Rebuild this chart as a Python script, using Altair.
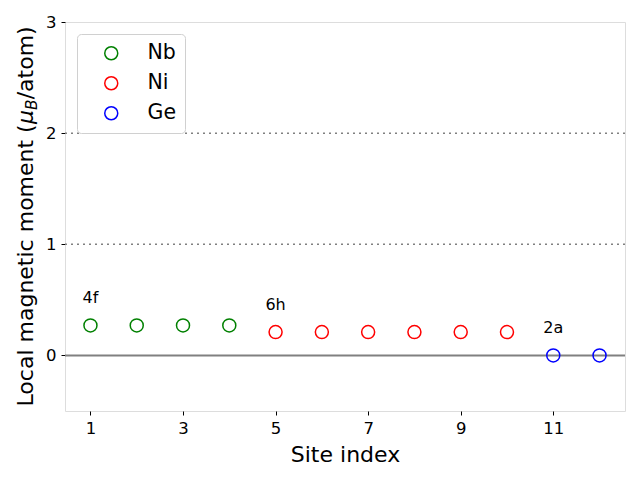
import altair as alt
import pandas as pd

# ---- data ----
sites = list(range(1, 13))
elements = ["Nb"] * 4 + ["Ni"] * 6 + ["Ge"] * 2
moments = [0.27, 0.27, 0.27, 0.27, 0.21, 0.21, 0.21, 0.21, 0.21, 0.21, 0.0, 0.0]
element_order = ["Nb", "Ni", "Ge"]
element_colors = ["#008000", "#ff0000", "#0000ff"]

wyckoff_labels = ["4f", "6h", "2a"]
wyckoff_x = [1, 5, 11]
wyckoff_y = [0.47, 0.41, 0.20]

dotted_levels = [1, 2]
zero_level = [0]

x_ticks = [1, 3, 5, 7, 9, 11]
y_ticks = [0, 1, 2, 3]

df = pd.DataFrame({"site": sites, "moment": moments, "element": elements})
lab_df = pd.DataFrame({"label": wyckoff_labels, "x": wyckoff_x, "y": wyckoff_y})

W, H = 560, 389
FONT = "DejaVu Sans"

xscale = alt.Scale(domain=[0.45, 12.55], nice=False, zero=False)
yscale = alt.Scale(domain=[-0.5, 3], nice=False, zero=False)

xaxis = alt.Axis(values=x_ticks, title="Site index", grid=False, domain=False,
                 tickColor="black", tickSize=4, labelFontSize=16.5, labelColor="black",
                 labelPadding=5, titleFontSize=22, titleFontWeight="normal",
                 titleColor="black", titlePadding=8, labelFlush=False)
yaxis = alt.Axis(values=y_ticks, title=None, grid=False, domain=False,
                 tickColor="black", tickSize=4, labelFontSize=16.5, labelColor="black",
                 labelPadding=5, format="d")

dotted = alt.Chart(pd.DataFrame({"v": dotted_levels})).mark_rule(
    color="#808080", strokeWidth=1.5, strokeDash=[2, 4]
).encode(y=alt.Y("v:Q", scale=yscale, axis=yaxis))

zero = alt.Chart(pd.DataFrame({"v": zero_level})).mark_rule(
    color="#808080", strokeWidth=2
).encode(y=alt.Y("v:Q", scale=yscale))

points = alt.Chart(df).mark_point(
    shape="circle", filled=False, size=169, strokeWidth=1.5, opacity=1
).encode(
    x=alt.X("site:Q", scale=xscale, axis=xaxis),
    y=alt.Y("moment:Q", scale=yscale),
    color=alt.Color("element:N",
                    scale=alt.Scale(domain=element_order, range=element_colors),
                    sort=element_order,
                    legend=alt.Legend(title=None, orient="none", legendX=12, legendY=12,
                                      labelFontSize=20.5, labelColor="black",
                                      symbolSize=169, symbolStrokeWidth=1.5,
                                      symbolType="circle", symbolFillColor="transparent",
                                      padding=9, rowPadding=9, symbolOffset=15,
                                      labelOffset=26, fillColor="white",
                                      strokeColor="#d0d0d0", cornerRadius=4)),
)

labels = alt.Chart(lab_df).mark_text(
    fontSize=16, color="black", align="center", baseline="alphabetic", font=FONT
).encode(
    x=alt.X("x:Q", scale=xscale),
    y=alt.Y("y:Q", scale=yscale),
    text="label:N",
)

# y-axis title built from pieces (mathtext-like subscript)
base_x = -32
y0 = 384.5
w1 = 282.6
w2 = 14.0
w3 = 10.6

def piece(txt, x, y, size, style="normal"):
    return alt.Chart(pd.DataFrame({"t": [txt]})).mark_text(
        angle=270, align="left", baseline="alphabetic", fontSize=size,
        fontStyle=style, color="black", font=FONT
    ).encode(x=alt.value(x), y=alt.value(y), text="t:N")

title_layers = [
    piece("Local magnetic moment (", base_x, y0, 22),
    piece("\u03bc", base_x, y0 - w1, 22, "italic"),
    piece("B", base_x + 4, y0 - w1 - w2, 15.4, "italic"),
    piece("/atom)", base_x, y0 - w1 - w2 - w3, 22),
]

chart = alt.layer(dotted, zero, points, labels, *title_layers).properties(
    width=W, height=H,
    autosize=alt.AutoSizeParams(type="none"),
    padding={"left": 65, "top": 22, "right": 15, "bottom": 69},
).configure_view(stroke="black", strokeWidth=1).configure(font=FONT)

chart.save("out.html", embed_options={"renderer": "svg", "actions": False})
